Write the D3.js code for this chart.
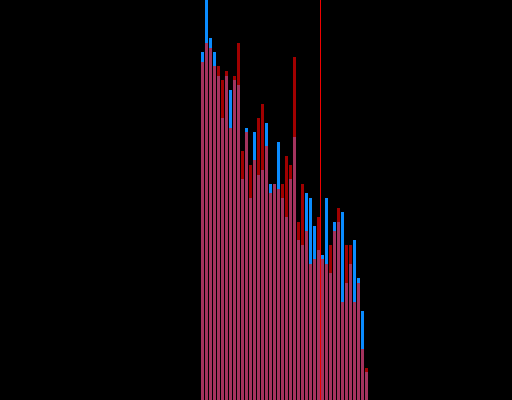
<!DOCTYPE html>
<html>
<head>
<meta charset="utf-8">
<script src="https://cdn.jsdelivr.net/npm/d3@7"></script>
<style>
  html, body { margin: 0; padding: 0; background: #000; }
  svg { display: block; }
</style>
</head>
<body>
<svg id="chart" width="512" height="400"></svg>
<script>
// Bin indices (42 bins)
const bins = d3.range(42);
// Series A (blue) bar heights per bin
const seriesBlue = [348, 400, 362, 348, 324, 282, 324, 310, 320, 315,
                    221, 272, 202, 268, 225, 230, 277, 216, 216, 258,
                    202, 183, 221, 263, 160, 155, 207, 202, 174, 150,
                    145, 202, 127, 178, 178, 188, 117, 136, 160, 122,
                    89, 28];
// Series B (red) bar heights per bin
const seriesRed = [338, 357, 352, 334, 334, 320, 329, 272, 324, 357,
                   249, 268, 235, 240, 282, 296, 254, 207, 216, 211,
                   216, 244, 235, 343, 178, 216, 169, 136, 141, 183,
                   141, 136, 155, 169, 192, 98, 155, 155, 98, 117,
                   51, 32];
// Marker position (in bin units)
const markerValue = 29.75;

const svg = d3.select("#chart");
const W = 512, H = 400;
svg.append("rect").attr("width", W).attr("height", H).attr("fill", "#000");

const x = d3.scaleLinear().domain([0, 42]).range([201, 369]);
const y = d3.scaleLinear().domain([0, 400]).range([400, 0]);
const bw = x(1) - x(0) - 1;

svg.append("g").selectAll("rect").data(bins).join("rect")
  .attr("x", d => x(d))
  .attr("y", d => y(seriesBlue[d]))
  .attr("width", bw)
  .attr("height", d => y(0) - y(seriesBlue[d]))
  .attr("fill", "#0a8cff");

svg.append("g").selectAll("rect").data(bins).join("rect")
  .attr("x", d => x(d))
  .attr("y", d => y(seriesRed[d]))
  .attr("width", bw)
  .attr("height", d => y(0) - y(seriesRed[d]))
  .attr("fill", "#ff0000")
  .attr("fill-opacity", 0.63);

svg.append("line")
  .attr("x1", Math.floor(x(markerValue)) + 0.5)
  .attr("x2", Math.floor(x(markerValue)) + 0.5)
  .attr("y1", 0).attr("y2", H)
  .attr("stroke", "#ee0000")
  .attr("stroke-width", 1);
</script>
</body>
</html>
